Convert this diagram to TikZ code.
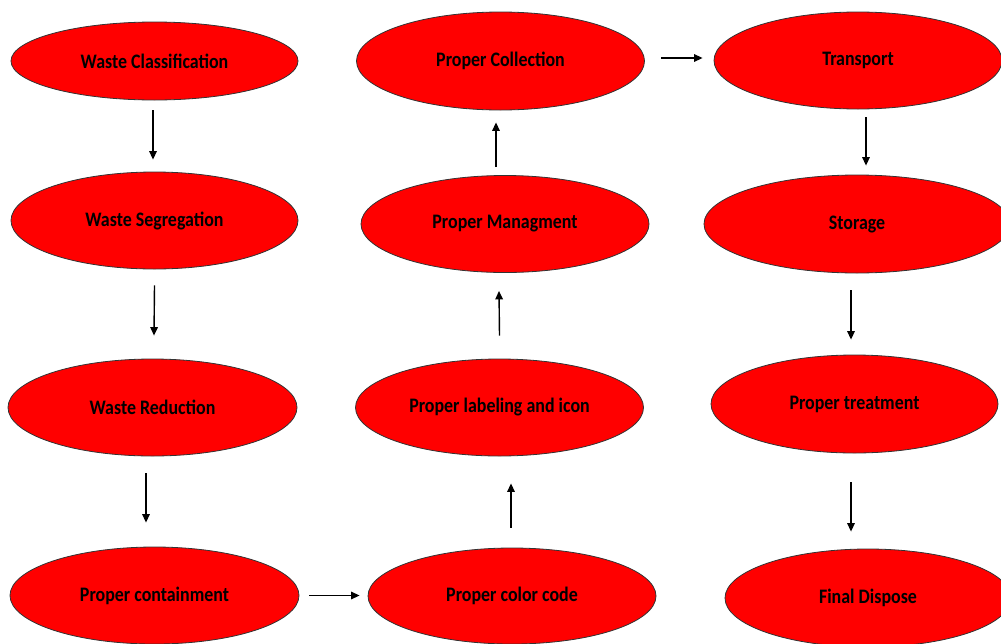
\documentclass[tikz,border=0pt]{standalone}
\usepackage{fontspec}
\setmainfont{Carlito}[FakeStretch=0.87]
\usetikzlibrary{shapes.geometric,arrows.meta}
\begin{document}
\begin{tikzpicture}[x=1pt,y=-1pt,
  stage/.style={ellipse, draw=black!80, line width=0.8pt, fill={rgb,255:red,255;green,0;blue,0},
    inner sep=0pt, font=\fontsize{20.6}{24}\selectfont\bfseries, text=black},
  arr/.style={line width=1.4pt, -{Triangle[length=8.5pt,width=7.5pt]}}]
\useasboundingbox (0,0) rectangle (1001,643);
% column 1
\node[stage, minimum width=287pt, minimum height=78pt] (wc) at (154.5,61) {Waste Classification};
\node[stage, minimum width=287pt, minimum height=97pt] (ws) at (154.5,220.5) {Waste Segregation};
\node[stage, minimum width=289pt, minimum height=97pt] (wr) at (152.5,407.5) {Waste Reduction};
\node[stage, minimum width=289pt, minimum height=97pt] (pc) at (154.5,595.5) {Proper containment};
% column 2
\node[stage, minimum width=288pt, minimum height=98pt] (pcol) at (500.5,61) {Proper Collection};
\node[stage, minimum width=288pt, minimum height=97pt] (pm) at (505,224) {Proper Managment};
\node[stage, minimum width=288pt, minimum height=97pt] (pl) at (499.5,407.5) {Proper labeling and icon};
\node[stage, minimum width=288pt, minimum height=96pt] (pcc) at (512,596) {Proper color code};
% column 3
\node[stage, minimum width=288pt, minimum height=97pt] (tr) at (858,60.5) {Transport};
\node[stage, minimum width=306pt, minimum height=98pt] (st) at (857,224) {Storage};
\node[stage, minimum width=287pt, minimum height=98pt] (pt) at (854.5,404) {Proper treatment};
\node[stage, minimum width=286pt, minimum height=98pt] (fd) at (868,598) {Final Dispose};
% arrows
\draw[arr] ([xshift=-1.5pt,yshift=-10pt]wc.south) -- ([xshift=-1.5pt,yshift=12pt]ws.north);
\draw[arr] ([yshift=-16pt]ws.south) -- ([xshift=1.5pt,yshift=23pt]wr.north);
\draw[arr] ([xshift=-6.5pt,yshift=-17pt]wr.south) -- ([xshift=-8.5pt,yshift=24pt]pc.north);
\draw[arr] ([xshift=10pt]pc.east) -- ([xshift=-8pt,yshift=0.5pt]pcc.west);
\draw[arr] ([xshift=-1pt,yshift=20pt]pcc.north) -- ([xshift=11.5pt,yshift=-27pt]pl.south);
\draw[arr] ([yshift=23pt]pl.north) -- ([xshift=-6pt,yshift=-18pt]pm.south);
\draw[arr] ([xshift=-9pt,yshift=8pt]pm.north) -- ([xshift=-4.5pt,yshift=-12pt]pcol.south);
\draw[arr] ([xshift=16.5pt,yshift=3pt]pcol.east) -- ([xshift=-11pt,yshift=2.5pt]tr.west);
\draw[arr] ([xshift=8pt,yshift=-8pt]tr.south) -- ([xshift=9pt,yshift=9pt]st.north);
\draw[arr] ([xshift=-6pt,yshift=-17pt]st.south) -- ([xshift=-3.5pt,yshift=15pt]pt.north);
\draw[arr] ([xshift=-3.5pt,yshift=-29pt]pt.south) -- ([xshift=-17pt,yshift=17pt]fd.north);
\end{tikzpicture}
\end{document}
